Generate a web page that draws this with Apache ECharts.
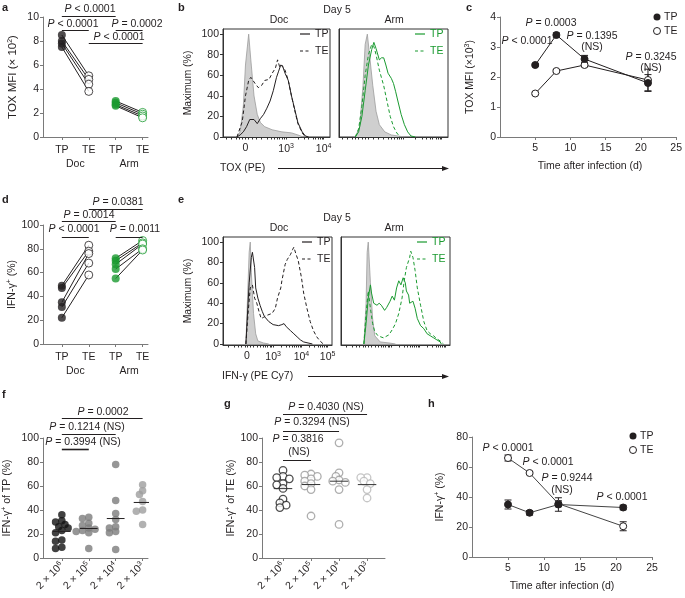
<!DOCTYPE html>
<html><head><meta charset="utf-8">
<script src="https://cdn.jsdelivr.net/npm/echarts@6/dist/echarts.min.js"></script>
<style>html,body{margin:0;padding:0;background:#fff}#c{width:685px;height:598px}</style>
</head><body><div id="c"></div>
<script>
// ================= DATA =================
// panel a : TOX MFI (x10^2), paired TP -> TE
const aTickLabels = ['TP', 'TE', 'TP', 'TE'];
const aGroupLabels = ['Doc', 'Arm'];
const aDocTP = [8.5, 8.0, 7.8, 7.5];
const aDocTE = [5.1, 4.8, 4.4, 3.8];
const aArmTP = [3.0, 2.85, 2.7, 2.6];
const aArmTE = [2.05, 1.9, 1.75, 1.6];

// panel d : IFN-g+ (%), paired TP -> TE
const dDocTP = [49, 47, 35, 31, 22];
const dDocTE = [83, 78, 76, 68, 58];
const dArmTP = [72, 70, 67, 63, 55];
const dArmTE = [87, 85, 84, 80, 79];

// panel c : TOX MFI (x10^3) over time
const cDays = [5, 8, 12, 21];
const cTP = [2.4, 3.4, 2.6, 1.8];
const cTPerr = [0.04, 0.07, 0.12, 0.28];
const cTE = [1.45, 2.2, 2.4, 1.9];
const cTEerr = [0.04, 0.05, 0.06, 0.36];

// panel h : IFN-g+ (%) over time
const hDays = [5, 8, 12, 21];
const hTP = [35, 29.5, 35, 33];
const hTPerr = [3, 1.5, 4.5, 1.5];
const hTE = [66, 56, 35.5, 20.5];
const hTEerr = [2, 1, 2, 3];

// panels f / g : dose groups
const doseLabels = ['2 × 10^6', '2 × 10^5', '2 × 10^4', '2 × 10^3'];
const fVals = [
  [36, 31, 30, 28, 26, 25, 23, 21, 15, 14, 9, 8],
  [34, 33, 29, 27, 25, 24, 23, 22, 21, 8],
  [78, 48, 37, 32, 26, 25, 22, 21, 7],
  [61, 56, 53, 47, 40, 39, 28]
];
const gVals = [
  [73, 68, 67, 66, 62, 61, 58, 49, 46, 44, 42],
  [70, 69, 68, 66, 64, 62, 60, 57, 35],
  [96, 71, 68, 65, 64, 63, 57, 28],
  [67, 67, 64, 62, 57, 50]
];

// panel b : TOX (PE) histograms, [channel, % of max]
const bTickLabels = ['0', '10^3', '10^4'];
const bDocGray = [[13,0],[16,5],[19,30],[21,70],[24,100],[26,75],[29,40],[32,22],[35,14],[39,10],[46,7],[55,5],[64,4],[70,2],[75,0]];
const bDocTP = [[13,0],[16,2],[19,5],[22,10],[25,17],[29,17],[32,13],[35,18],[38,22],[41,28],[44,35],[47,45],[50,58],[52,64],[54,70],[56,68],[58,62],[61,55],[64,40],[67,27],[70,14],[74,5],[77,1],[80,0]];
const bDocTE = [[13,0],[18,15],[21,40],[24,55],[26,58],[30,52],[33,48],[36,50],[39,55],[43,56],[46,62],[49,67],[51,75],[53,68],[55,70],[58,65],[61,55],[64,40],[67,26],[70,13],[74,4],[77,0]];
const bArmGray = [[15,0],[19,10],[22,50],[24,90],[26,100],[28,80],[31,50],[34,25],[37,12],[42,5],[48,2],[54,1],[60,0]];
const bArmTP = [[15,0],[18,5],[21,20],[24,45],[27,70],[30,85],[32,92],[34,86],[37,75],[39,77],[41,77],[43,70],[45,62],[48,57],[50,52],[52,44],[54,35],[57,22],[60,12],[63,5],[66,1],[70,0]];
const bArmTE = [[15,0],[18,8],[21,30],[24,60],[27,80],[30,90],[32,88],[34,80],[37,65],[41,50],[44,35],[47,20],[50,10],[53,4],[56,0]];

// panel e : IFN-g (PE Cy7) histograms
const eTickLabels = ['0', '10^3', '10^4', '10^5'];
const eDocGray = [[21,0],[22,30],[24,90],[25,100],[26,70],[28,30],[30,10],[32,3],[37,1],[42,0]];
const eDocTP = [[21,0],[22,20],[24,60],[26,85],[27,90],[29,75],[30,55],[32,45],[34,38],[36,32],[38,27],[42,22],[46,19],[51,18],[54,19],[56,20],[58,17],[62,13],[65,10],[68,7],[71,4],[74,2],[78,1],[82,0]];
const eDocTE = [[21,0],[23,30],[25,55],[27,58],[29,45],[31,40],[33,32],[35,25],[37,26],[40,28],[45,30],[48,35],[50,45],[53,55],[54,62],[57,78],[59,83],[62,88],[64,93],[65,95],[67,88],[69,82],[72,65],[74,50],[77,35],[80,22],[83,13],[86,7],[89,3],[92,0]];
const eArmGray = [[21,0],[23,40],[24,90],[25,100],[27,60],[29,25],[31,8],[36,2],[44,1],[50,0]];
const eArmTP = [[21,0],[23,20],[25,45],[27,58],[28,50],[30,40],[33,38],[35,40],[37,38],[40,33],[42,36],[45,42],[47,47],[49,43],[51,55],[53,62],[55,58],[57,65],[59,60],[60,52],[62,48],[63,40],[66,42],[68,35],[70,25],[73,18],[76,15],[79,10],[82,8],[85,6],[88,4],[91,2],[92,0]];
const eArmTE = [[21,0],[23,30],[25,52],[27,35],[29,20],[31,12],[34,8],[39,6],[44,9],[47,14],[50,20],[53,30],[56,45],[58,62],[60,75],[63,85],[64,91],[66,85],[68,72],[70,55],[73,38],[76,22],[79,13],[82,10],[85,8],[88,5],[91,3],[94,0]];

// ================= STYLE / LAYOUT =================
const FONT = '"Liberation Sans", Arial, Helvetica, sans-serif';
const INK = '#231f20';
const AX = '#7a7a7a';
const GREEN = '#1a9a30';
const FS = 10.5;
const RICH = {
  s: {fontSize: 7, fontFamily: FONT, verticalAlign: 'top', fill: INK, color: INK, padding: [0, 0, 5, 0]},
  i: {fontStyle: 'italic', fontSize: FS, fontFamily: FONT, color: INK, fill: INK}
};
const sup = t => String(t).replace(/\^(\w+)/g, '{s|$1}');

const chart = echarts.init(document.getElementById('c'), null, {renderer: 'canvas', width: 685, height: 598});

const grids = [
  {left: 43, top: 17, width: 105, height: 120},   // 0 a
  {left: 223, top: 29, width: 107, height: 108, show: true, borderColor: '#333', borderWidth: 1}, // 1 b Doc
  {left: 339, top: 29, width: 109, height: 108, show: true, borderColor: '#333', borderWidth: 1}, // 2 b Arm
  {left: 500, top: 17, width: 179, height: 120},  // 3 c
  {left: 43, top: 225, width: 105, height: 119},  // 4 d
  {left: 223, top: 237, width: 109, height: 108, show: true, borderColor: '#333', borderWidth: 1}, // 5 e Doc
  {left: 341, top: 237, width: 109, height: 108, show: true, borderColor: '#333', borderWidth: 1}, // 6 e Arm
  {left: 43, top: 438, width: 105, height: 120},  // 7 f
  {left: 262, top: 438, width: 123, height: 120}, // 8 g
  {left: 472, top: 437, width: 180, height: 120}  // 9 h
].map(g => Object.assign({containLabel: false, backgroundColor: 'transparent'}, g));

function axis(grid, o) {
  const base = {
    gridIndex: grid, type: 'value',
    axisLine: {show: true, onZero: false, lineStyle: {color: AX, width: 1}},
    axisTick: {show: true, length: 3, lineStyle: {color: AX, width: 1}},
    axisLabel: {color: INK, fontSize: FS, fontFamily: FONT, margin: 4, rich: RICH, hideOverlap: false},
    splitLine: {show: false},
    nameTextStyle: {color: INK, fontSize: FS, fontFamily: FONT, rich: RICH},
    nameLocation: 'middle'
  };
  for (const k in o) {
    if (base[k] && typeof base[k] === 'object' && !Array.isArray(base[k]) && typeof o[k] === 'object') base[k] = Object.assign({}, base[k], o[k]);
    else base[k] = o[k];
  }
  return base;
}

const pairXAxis = (grid) => axis(grid, {min: 0.3, max: 4.2,
  axisTick: {customValues: [1, 2, 3, 4]},
  axisLabel: {customValues: [1, 2, 3, 4], formatter: v => aTickLabels[v - 1] || '', margin: 8}});

const bTickPos = [21, 59, 94];
const eTickPos = [22, 46, 72, 96];
const bMinor = [3,8,12,15,18,21,24,27,31,36,41,45,48,51,53,55,57,59,70,76,80,84,86,89,91,92.5,94];
const eMinor = [5,10,14,17,20,22,25,28,31,34,37,39,41,43,44.5,46,53.5,58,61,63.5,65.5,67.5,69,70.5,72,79.5,84,87,89.5,91.5,93,94.5,96];
const histX = (grid, pos, labels, minor, showLabels) => axis(grid, {min: 0, max: 100,
  axisLine: {lineStyle: {color: '#333'}},
  axisTick: {customValues: minor, length: 2.5, lineStyle: {color: '#333'}},
  axisLabel: {show: showLabels, customValues: pos, margin: 6,
    formatter: v => sup(labels[pos.indexOf(v)] || '')}});
const histY = (grid, min, showLabels) => axis(grid, {min: min, max: 105,
  axisLine: {lineStyle: {color: '#333'}},
  axisTick: {show: showLabels, customValues: [0, 20, 40, 60, 80, 100], lineStyle: {color: '#333'}},
  axisLabel: {show: showLabels, customValues: [0, 20, 40, 60, 80, 100], margin: 4},
  name: showLabels ? 'Maximum (%)' : '', nameGap: 29});

const doseXAxis = (grid, min, max) => axis(grid, {min, max,
  axisTick: {customValues: [1, 2, 3, 4]},
  axisLabel: {customValues: [1, 2, 3, 4], rotate: 45, margin: 6,
    formatter: v => sup(doseLabels[v - 1] || '')}});

const xAxes = [
  pairXAxis(0),
  histX(1, bTickPos, bTickLabels, bMinor, true),
  histX(2, bTickPos, bTickLabels, bMinor, false),
  axis(3, {min: 0, max: 25, interval: 5, axisLabel: {showMinLabel: false, margin: 6}}),
  pairXAxis(4),
  histX(5, eTickPos, eTickLabels, eMinor, true),
  histX(6, eTickPos, eTickLabels, eMinor, false),
  doseXAxis(7, 0.3, 4.2),
  doseXAxis(8, 0.25, 4.64),
  axis(9, {min: 0, max: 25, interval: 5, axisLabel: {showMinLabel: false, margin: 6}})
];
const yAxes = [
  axis(0, {min: 0, max: 10, interval: 2, name: 'TOX MFI (× 10{s|2})', nameGap: 24,
    nameTextStyle: {fontSize: 11.5}}),
  histY(1, 0, true),
  histY(2, 0, false),
  axis(3, {min: 0, max: 4, interval: 1, name: 'TOX MFI (×10{s|3})', nameGap: 24}),
  axis(4, {min: 0, max: 100, interval: 20, name: 'IFN-γ{s|+} (%)', nameGap: 25}),
  histY(5, -1, true),
  histY(6, -1, false),
  axis(7, {min: 0, max: 100, interval: 20, name: 'IFN-γ{s|+} of TP (%)', nameGap: 30}),
  axis(8, {min: 0, max: 100, interval: 20, name: 'IFN-γ{s|+} of TE (%)', nameGap: 25}),
  axis(9, {min: 0, max: 80, interval: 20, name: 'IFN-γ{s|+} (%)', nameGap: 26})
];

// ================= SERIES =================
const series = [];
const on = (g) => ({xAxisIndex: g, yAxisIndex: g});

// paired plots (a, d)
function paired(g, tp, te, xTP, color, size) {
  tp.forEach((v, i) => series.push(Object.assign(on(g), {type: 'line', data: [[xTP, v], [xTP + 1, te[i]]],
    symbol: 'none', lineStyle: {color: INK, width: 1}, z: 2, silent: true})));
  series.push(Object.assign(on(g), {type: 'scatter', data: tp.map(v => [xTP, v]), symbolSize: size,
    itemStyle: {color: color}, z: 3}));
  series.push(Object.assign(on(g), {type: 'scatter', data: te.map(v => [xTP + 1, v]), symbolSize: size,
    itemStyle: {color: '#fff', borderColor: color, borderWidth: 1}, z: 4}));
}
paired(0, aDocTP, aDocTE, 1, INK, 8);
paired(0, aArmTP, aArmTE, 3, GREEN, 8);
paired(4, dDocTP, dDocTE, 1, INK, 8);
paired(4, dArmTP, dArmTE, 3, GREEN, 8);

// histograms
function hist(g, pts, color, kind) {
  const s = Object.assign(on(g), {type: 'line', data: pts, symbol: 'none', silent: true,
    lineStyle: {color: color, width: 1}, z: 3});
  if (kind === 'fill') { s.lineStyle = {color: '#9c9c9c', width: 0.8}; s.areaStyle = {color: '#cfcfcf', opacity: 1}; s.z = 1; }
  if (kind === 'dash') { s.lineStyle.type = [3.5, 2.5]; s.z = 2; }
  series.push(s);
}
hist(1, bDocGray, null, 'fill'); hist(1, bDocTE, INK, 'dash'); hist(1, bDocTP, INK, 'solid');
hist(2, bArmGray, null, 'fill'); hist(2, bArmTE, GREEN, 'dash'); hist(2, bArmTP, GREEN, 'solid');
hist(5, eDocGray, null, 'fill'); hist(5, eDocTE, INK, 'dash'); hist(5, eDocTP, INK, 'solid');
hist(6, eArmGray, null, 'fill'); hist(6, eArmTE, GREEN, 'dash'); hist(6, eArmTP, GREEN, 'solid');

// time courses (c, h) with error bars
function errBars(g, xs, ys, es) {
  series.push(Object.assign(on(g), {type: 'custom', silent: true, z: 2,
    data: xs.map((x, i) => [x, ys[i] - es[i], ys[i] + es[i]]),
    encode: {x: 0, y: [1, 2]},
    renderItem: (params, api) => {
      const p1 = api.coord([api.value(0), api.value(1)]);
      const p2 = api.coord([api.value(0), api.value(2)]);
      const w = 3.5, st = {stroke: INK, lineWidth: 1};
      return {type: 'group', children: [
        {type: 'line', shape: {x1: p1[0], y1: p1[1], x2: p2[0], y2: p2[1]}, style: st},
        {type: 'line', shape: {x1: p1[0] - w, y1: p1[1], x2: p1[0] + w, y2: p1[1]}, style: st},
        {type: 'line', shape: {x1: p2[0] - w, y1: p2[1], x2: p2[0] + w, y2: p2[1]}, style: st}
      ]};
    }}));
}
function course(g, xs, tp, tpe, te, tee, lineColor) {
  errBars(g, xs, tp, tpe); errBars(g, xs, te, tee);
  series.push(Object.assign(on(g), {type: 'line', data: xs.map((x, i) => [x, te[i]]), symbol: 'circle', symbolSize: 7,
    lineStyle: {color: lineColor, width: 1}, itemStyle: {color: '#fff', borderColor: INK, borderWidth: 1}, z: 3}));
  series.push(Object.assign(on(g), {type: 'line', data: xs.map((x, i) => [x, tp[i]]), symbol: 'circle', symbolSize: 7,
    lineStyle: {color: lineColor, width: 1}, itemStyle: {color: INK, borderColor: INK, borderWidth: 1}, z: 4}));
}
course(3, cDays, cTP, cTPerr, cTE, cTEerr, INK);
course(9, hDays, hTP, hTPerr, hTE, hTEerr, '#444');

// dot plots (f, g) with compact beeswarm + mean line
function swarm(vals, center, pxPerX, pxPerY, diam) {
  const placed = [], res = new Array(vals.length);
  const order = vals.map((v, i) => i).sort((a, b) => vals[b] - vals[a]);
  for (const i of order) {
    const v = vals[i];
    for (let k = 0; k < 30; k++) {
      const off = (k === 0 ? 0 : (k % 2 ? -1 : 1) * Math.ceil(k / 2)) * diam * 0.42;
      if (placed.every(p => Math.hypot(p.dx - off, (p.v - v) * pxPerY) >= diam * 0.6)) {
        placed.push({dx: off, v}); res[i] = [center + off / pxPerX, v]; break;
      }
    }
  }
  return res;
}
function dots(g, groups, colors, open, pxPerX, meanColor) {
  groups.forEach((vals, gi) => {
    const c = gi + 1;
    series.push(Object.assign(on(g), {type: 'scatter', symbolSize: 7.5, z: 3,
      data: swarm(vals, c, pxPerX, 1.2, 7.5),
      itemStyle: open ? {color: '#fff', borderColor: colors[gi], borderWidth: 1.3} : {color: colors[gi]}}));
    const mean = vals.reduce((a, b) => a + b, 0) / vals.length;
    series.push(Object.assign(on(g), {type: 'line', symbol: 'none', silent: true, z: 4,
      data: [[c - 0.33, mean], [c + 0.33, mean]], lineStyle: {color: meanColor, width: 1}}));
  });
}
dots(7, fVals, ['#111111', '#7c7c7c', '#7c7c7c', '#9d9d9d'], false, 26.9, INK);
dots(8, gVals, ['#222222', '#9a9a9a', '#9a9a9a', '#b8b8b8'], true, 28, '#333');

chart.setOption({animation: false, backgroundColor: '#fff', grid: grids, xAxis: xAxes, yAxis: yAxes, series: series});

// ================= ANNOTATIONS =================
const G = [];
function T(x, y, text, o = {}) {
  G.push({type: 'text', x, y, silent: true, z: 10, style: Object.assign({
    text, fill: INK, fontSize: FS, fontFamily: FONT, align: 'center', verticalAlign: 'middle', rich: RICH}, o)});
}
function L(x1, y1, x2, y2, w = 1, color = INK) {
  G.push({type: 'line', silent: true, z: 10, shape: {x1, y1, x2, y2}, style: {stroke: color, lineWidth: w}});
}
const px = (g, x) => chart.convertToPixel({xAxisIndex: g}, x);
function bracket(g, xa, xb, ly, text, tx, ty, w = 1) {
  L(px(g, xa), ly, px(g, xb), ly, w);
  T(tx, ty, text);
}
const P = s => '{i|P} ' + s;

// panel letters
[['a', 2, 8], ['b', 178, 8], ['c', 466, 8], ['d', 2, 200], ['e', 178, 200], ['f', 2, 395], ['g', 224, 404], ['h', 428, 404]]
  .forEach(([t, x, y]) => T(x, y, t, {align: 'left', fontWeight: 'bold', fontSize: 11}));

// group labels under paired plots
[[0, 164], [4, 371]].forEach(([g, y]) => {
  T(px(g, 1.5), y, aGroupLabels[0]);
  T(px(g, 3.5), y, aGroupLabels[1]);
});

// a
bracket(0, 1, 3, 16.5, P('< 0.0001'), 90, 9);
bracket(0, 1, 2, 30.5, P('< 0.0001'), 73, 24);
bracket(0, 3, 4, 30.5, P('= 0.0002'), 137, 24);
bracket(0, 2, 4, 43.5, P('< 0.0001'), 119, 37.5);
// d
bracket(4, 2, 4, 209.5, P('= 0.0381'), 118, 202.5);
bracket(4, 1, 3, 221.5, P('= 0.0014'), 89, 215.5);
bracket(4, 1, 2, 237.5, P('< 0.0001'), 74, 229);
bracket(4, 3, 4, 237.5, P('= 0.0011'), 135, 229);
// f
bracket(7, 1, 4, 418.5, P('= 0.0002'), 103, 412);
bracket(7, 1, 3, 434.5, P('= 0.1214 (NS)'), 87, 427);
bracket(7, 1, 2, 449.5, P('= 0.3994 (NS)'), 83, 442, 1.6);
// g
bracket(8, 1, 4, 414.5, P('= 0.4030 (NS)'), 326, 407);
bracket(8, 1, 3, 431.5, P('= 0.3294 (NS)'), 312, 422);
bracket(8, 1, 2, 460.5, P('= 0.3816'), 298, 439);
T(299, 452, '(NS)');

// c
T(551, 23, P('= 0.0003'));
T(527, 41, P('< 0.0001'));
T(592, 36, P('= 0.1395'));
T(592, 47.5, '(NS)');
T(651, 57, P('= 0.3245'));
T(651, 68.5, '(NS)');
G.push({type: 'circle', z: 10, shape: {cx: 657, cy: 17, r: 3.5}, style: {fill: INK}});
G.push({type: 'circle', z: 10, shape: {cx: 657, cy: 31, r: 3.5}, style: {fill: '#fff', stroke: INK, lineWidth: 1}});
T(664, 17, 'TP', {align: 'left'});
T(664, 31, 'TE', {align: 'left'});
T(590, 166, 'Time after infection (d)');

// h
T(508, 448, P('< 0.0001'));
T(548, 462, P('< 0.0001'));
T(567, 478, P('= 0.9244'));
T(562, 490, '(NS)');
T(622, 497, P('< 0.0001'));
G.push({type: 'circle', z: 10, shape: {cx: 633, cy: 436, r: 3.5}, style: {fill: INK}});
G.push({type: 'circle', z: 10, shape: {cx: 633, cy: 450, r: 3.5}, style: {fill: '#fff', stroke: INK, lineWidth: 1}});
T(640, 436, 'TP', {align: 'left'});
T(640, 450, 'TE', {align: 'left'});
T(562, 586, 'Time after infection (d)');

// b / e headers, legends, x titles with arrows
function histDecor(yOff, xTitle, titleX, arrowX1, docLegX, armLegX) {
  T(337, 10 + yOff, 'Day 5');
  T(279, 20 + yOff, 'Doc');
  T(394, 20 + yOff, 'Arm');
  [[docLegX, INK], [armLegX, GREEN]].forEach(([lx, col]) => {
    L(lx, 34 + yOff, lx + 10, 34 + yOff, 1.2, col);
    G.push({type: 'line', silent: true, z: 10, shape: {x1: lx, y1: 51 + yOff, x2: lx + 10, y2: 51 + yOff},
      style: {stroke: col, lineWidth: 1.2, lineDash: [3, 2.5]}});
    T(lx + 15, 34 + yOff, 'TP', {align: 'left', fill: col});
    T(lx + 15, 51 + yOff, 'TE', {align: 'left', fill: col});
  });
  T(titleX, 168 + yOff, xTitle, {align: 'left'});
  L(arrowX1, 168.5 + yOff, 444, 168.5 + yOff, 1);
  G.push({type: 'polygon', silent: true, z: 10, shape: {points: [[449, 168.5 + yOff], [442, 166 + yOff], [442, 171 + yOff]]}, style: {fill: INK}});
}
histDecor(0, 'TOX (PE)', 220, 278, 300, 415);
histDecor(208, 'IFN-γ (PE Cy7)', 222, 308, 302, 417);

chart.setOption({graphic: {elements: G}});
</script>
</body></html>
